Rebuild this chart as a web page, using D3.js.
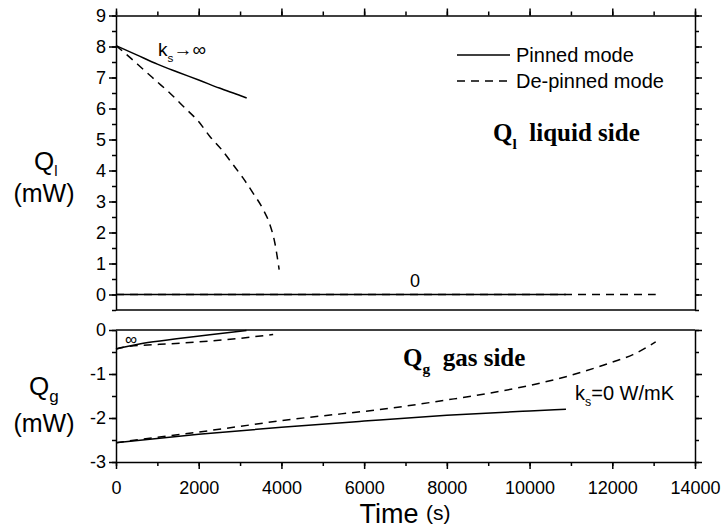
<!DOCTYPE html>
<html>
<head>
<meta charset="utf-8">
<script src="https://cdn.jsdelivr.net/npm/d3@7"></script>
<style>
  body { margin: 0; background: #fff; }
  svg { display: block; }
  .axis path, .axis line { stroke: #000; stroke-width: 1.5; }
  .axis text { font-family: "Liberation Sans", Arial, sans-serif; font-size: 18px; fill: #000; }
</style>
</head>
<body>
<svg id="chart" width="723" height="529"></svg>
<script>
// ---- data (time in s, heat in mW) ----
const pinnedInfLiqT = [0, 500, 1000, 1500, 2000, 2500, 3000, 3160];
const pinnedInfLiqQ = [8.03, 7.73, 7.43, 7.17, 6.92, 6.66, 6.42, 6.34];

const depinnedInfLiqT = [0, 300, 660, 980, 1300, 1665, 1990, 2270, 2550, 2830, 3070, 3310, 3560, 3720, 3840, 3945];
const depinnedInfLiqQ = [8.03, 7.69, 7.26, 6.88, 6.5, 6.02, 5.59, 5.1, 4.68, 4.19, 3.76, 3.28, 2.74, 2.26, 1.67, 0.8];

const pinnedZeroLiqT = [0, 10880];
const pinnedZeroLiqQ = [0, 0];
const depinnedZeroLiqT = [0, 13050];
const depinnedZeroLiqQ = [0, 0];

const pinnedInfGasT = [0, 660, 1465, 2270, 3155];
const pinnedInfGasQ = [-0.43, -0.30, -0.20, -0.11, -0.01];
const depinnedInfGasT = [0, 180, 1545, 2993, 3800];
const depinnedInfGasQ = [-0.43, -0.39, -0.30, -0.19, -0.10];

const pinnedZeroGasT = [0, 2000, 4000, 6000, 8000, 10000, 10880];
const pinnedZeroGasQ = [-2.56, -2.37, -2.21, -2.07, -1.94, -1.84, -1.80];
const depinnedZeroGasT = [0, 1000, 2000, 3000, 4000, 5000, 6000, 7000, 8000, 9000, 10000, 11000, 12000, 12500, 13050];
const depinnedZeroGasQ = [-2.56, -2.44, -2.32, -2.19, -2.06, -1.95, -1.85, -1.73, -1.59, -1.44, -1.26, -1.03, -0.73, -0.56, -0.27];

const timeTicks = [0, 2000, 4000, 6000, 8000, 10000, 12000, 14000];
const liqTicks = [0, 1, 2, 3, 4, 5, 6, 7, 8, 9];
const gasTicks = [-3, -2, -1, 0];
const legendLabels = ["Pinned mode", "De-pinned mode"];

const zip = (ts, qs) => ts.map((t, i) => [t, qs[i]]);

const svg = d3.select("#chart");
const sans = '"Liberation Sans", Arial, sans-serif';
const serif = '"Liberation Serif", "Times New Roman", serif';

const left = 116, right = 695;
const x = d3.scaleLinear().domain([0, 14000]).range([left, right]);
const yTop = d3.scaleLinear().domain([-0.5, 9]).range([310, 15.5]);
const yBot = d3.scaleLinear().domain([-3, 0]).range([462, 330]);

const minorTime = d3.range(0, 14001, 1000);
const minorLiq = d3.range(-0.5, 9.01, 0.5);
const minorGas = d3.range(-3, 0.01, 0.5);

// plain hyphen for negatives, like the original
const fmt = d => String(d);

function drawAxis(gen, transform, minorVals, majorVals, showLabels) {
  const g = svg.append("g").attr("class", "axis").attr("transform", transform);
  // minor ticks
  g.call(gen.tickValues(minorVals).tickSizeInner(4).tickSizeOuter(0).tickFormat(""));
  const gm = svg.append("g").attr("class", "axis").attr("transform", transform);
  gm.call(gen.tickValues(majorVals).tickSizeInner(7).tickSizeOuter(0).tickPadding(3)
    .tickFormat(showLabels ? fmt : ""));
  gm.select(".domain").remove();
  return gm;
}

// top panel (liquid side)
drawAxis(d3.axisLeft(yTop), `translate(${left},0)`, minorLiq, liqTicks, true);
drawAxis(d3.axisRight(yTop), `translate(${right},0)`, minorLiq, liqTicks, false);
drawAxis(d3.axisTop(x), `translate(0,${yTop(9)})`, minorTime, timeTicks, false);
svg.append("line").attr("x1", left).attr("x2", right)
  .attr("y1", yTop(-0.5)).attr("y2", yTop(-0.5))
  .attr("stroke", "#000").attr("stroke-width", 1.5);

// bottom panel (gas side)
drawAxis(d3.axisLeft(yBot), `translate(${left},0)`, minorGas, gasTicks, true);
drawAxis(d3.axisRight(yBot), `translate(${right},0)`, minorGas, gasTicks, false);
drawAxis(d3.axisBottom(x), `translate(0,${yBot(-3)})`, minorTime, timeTicks, true)
  .selectAll("text").attr("dy", "1.2em");
svg.append("line").attr("x1", left).attr("x2", right)
  .attr("y1", yBot(0)).attr("y2", yBot(0))
  .attr("stroke", "#000").attr("stroke-width", 1.5);

function curve(pts, yScale, dashed) {
  const line = d3.line().x(d => x(d[0])).y(d => yScale(d[1])).curve(d3.curveMonotoneX);
  svg.append("path").attr("d", line(pts))
    .attr("fill", "none").attr("stroke", "#000")
    .attr("stroke-width", 1.5)
    .attr("stroke-dasharray", dashed ? "8,6" : null);
}

curve(zip(depinnedZeroLiqT, depinnedZeroLiqQ), yTop, true);
curve(zip(pinnedZeroLiqT, pinnedZeroLiqQ), yTop, false);
curve(zip(depinnedInfLiqT, depinnedInfLiqQ), yTop, true);
curve(zip(pinnedInfLiqT, pinnedInfLiqQ), yTop, false);

curve(zip(depinnedInfGasT, depinnedInfGasQ), yBot, true);
curve(zip(pinnedInfGasT, pinnedInfGasQ), yBot, false);
curve(zip(depinnedZeroGasT, depinnedZeroGasQ), yBot, true);
curve(zip(pinnedZeroGasT, pinnedZeroGasQ), yBot, false);

// legend
legendLabels.forEach((lab, i) => {
  const ly = 55 + i * 26;
  svg.append("line").attr("x1", 457).attr("x2", 510).attr("y1", ly).attr("y2", ly)
    .attr("stroke", "#000").attr("stroke-width", 1.5)
    .attr("stroke-dasharray", i ? "8,6" : null);
  svg.append("text").attr("x", 516).attr("y", ly + 7)
    .attr("font-family", sans).attr("font-size", 20).text(lab);
});

// annotations
function subText(xp, yp, main, sub, rest, size, family, weight, subScale) {
  const t = svg.append("text").attr("x", xp).attr("y", yp)
    .attr("font-family", family).attr("font-size", size)
    .attr("font-weight", weight || "normal");
  t.append("tspan").text(main);
  t.append("tspan").attr("font-size", size * (subScale || 0.62)).attr("dy", size * 0.3).text(sub);
  if (rest) t.append("tspan").attr("dy", -size * 0.3).text(rest);
  return t;
}

subText(158, 56, "k", "s", "\u2192\u221E", 19, sans);
subText(575, 400, "k", "s", "=0 W/mK", 20, sans);
svg.append("text").attr("x", 415).attr("y", 287).attr("text-anchor", "middle")
  .attr("font-family", sans).attr("font-size", 18).text("0");
svg.append("text").attr("x", 131).attr("y", 345).attr("text-anchor", "middle")
  .attr("font-family", sans).attr("font-size", 17).text("\u221E");

subText(493, 141, "Q", "l", "  liquid side", 25, serif, "bold").attr("xml:space", "preserve");
subText(403, 366, "Q", "g", "  gas side", 25, serif, "bold").attr("xml:space", "preserve");

// y labels
const ql = svg.append("text").attr("x", 34).attr("y", 170)
  .attr("font-family", sans).attr("font-size", 26);
ql.append("tspan").text("Q");
ql.append("tspan").attr("font-size", 15).attr("dy", 6).text("l");
svg.append("text").attr("x", 44).attr("y", 202).attr("text-anchor", "middle")
  .attr("font-family", sans).attr("font-size", 25).text("(mW)");
const qg = svg.append("text").attr("x", 29).attr("y", 395)
  .attr("font-family", sans).attr("font-size", 26);
qg.append("tspan").text("Q");
qg.append("tspan").attr("font-size", 17).attr("dy", 7).text("g");
svg.append("text").attr("x", 44).attr("y", 432).attr("text-anchor", "middle")
  .attr("font-family", sans).attr("font-size", 25).text("(mW)");

// x label
const xl = svg.append("text").attr("x", 405).attr("y", 523).attr("text-anchor", "middle")
  .attr("font-family", sans).attr("font-size", 27);
xl.append("tspan").text("Time ");
xl.append("tspan").attr("font-size", 21).attr("dy", -3).text("(s)");
</script>
</body>
</html>
